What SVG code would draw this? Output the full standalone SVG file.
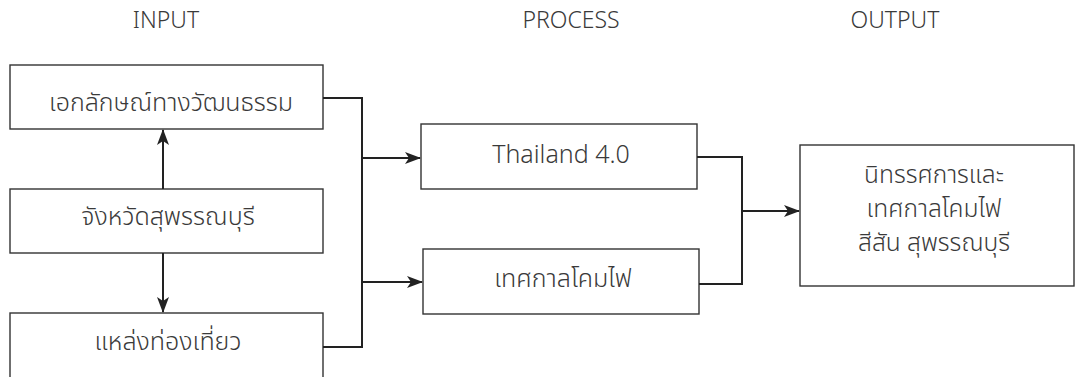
<svg xmlns="http://www.w3.org/2000/svg" width="1075" height="377" viewBox="0 0 1075 377">
<defs>
<style>
.box{fill:#fff;stroke:#333;stroke-width:1.4}
.t{font-family:"Noto Sans Thai","Noto Sans","DejaVu Sans",sans-serif;font-weight:300;font-size:25px;fill:#3a3a3a;text-anchor:middle}
.o{font-size:24.5px}
.h{font-family:"Noto Sans","Open Sans",sans-serif;font-weight:300;font-size:23px;fill:#3a3a3a;text-anchor:middle}
.c{fill:none;stroke:#222;stroke-width:2}
</style>
<marker id="ah" viewBox="0 0 16 12" refX="15" refY="6" markerWidth="16" markerHeight="12" markerUnits="userSpaceOnUse" orient="auto">
<path d="M0,0 L16,6 L0,12 L4,6 Z" fill="#222"/>
</marker>
</defs>
<g id="headers">
<text class="h" x="166" y="28">INPUT</text>
<text class="h" x="571" y="28">PROCESS</text>
<text class="h" x="895" y="28">OUTPUT</text>
</g>
<g id="n1"><rect class="box" x="10" y="65" width="313" height="64"/><text class="t" x="171" y="111">เอกลักษณ์ทางวัฒนธรรม</text></g>
<g id="n2"><rect class="box" x="10" y="189" width="313" height="64"/><text class="t" x="168" y="225">จังหวัดสุพรรณบุรี</text></g>
<g id="n3"><rect class="box" x="10" y="313" width="313" height="90"/><text class="t" x="168" y="350">แหล่งท่องเที่ยว</text></g>
<g id="n4"><rect class="box" x="421" y="124" width="276" height="65"/><text class="t" x="561" y="163">Thailand 4.0</text></g>
<g id="n5"><rect class="box" x="423" y="249" width="276" height="65"/><text class="t" x="563" y="287">เทศกาลโคมไฟ</text></g>
<g id="n6"><rect class="box" x="800" y="145" width="274" height="141"/>
<text class="t o" x="934" y="183">นิทรรศการและ</text>
<text class="t o" x="934" y="217">เทศกาลโคมไฟ</text>
<text class="t o" x="934" y="251">สีสัน สุพรรณบุรี</text></g>
<g id="connectors">
<line class="c" x1="163" y1="189" x2="163" y2="130" marker-end="url(#ah)"/>
<line class="c" x1="163" y1="253" x2="163" y2="312" marker-end="url(#ah)"/>
<polyline class="c" points="323,98 362,98 362,347 323,347"/>
<line class="c" x1="362" y1="158" x2="420" y2="158" marker-end="url(#ah)"/>
<line class="c" x1="362" y1="282" x2="422" y2="282" marker-end="url(#ah)"/>
<polyline class="c" points="697,157 742,157 742,284 699,284"/>
<line class="c" x1="742" y1="211" x2="799" y2="211" marker-end="url(#ah)"/>
</g>
</svg>
